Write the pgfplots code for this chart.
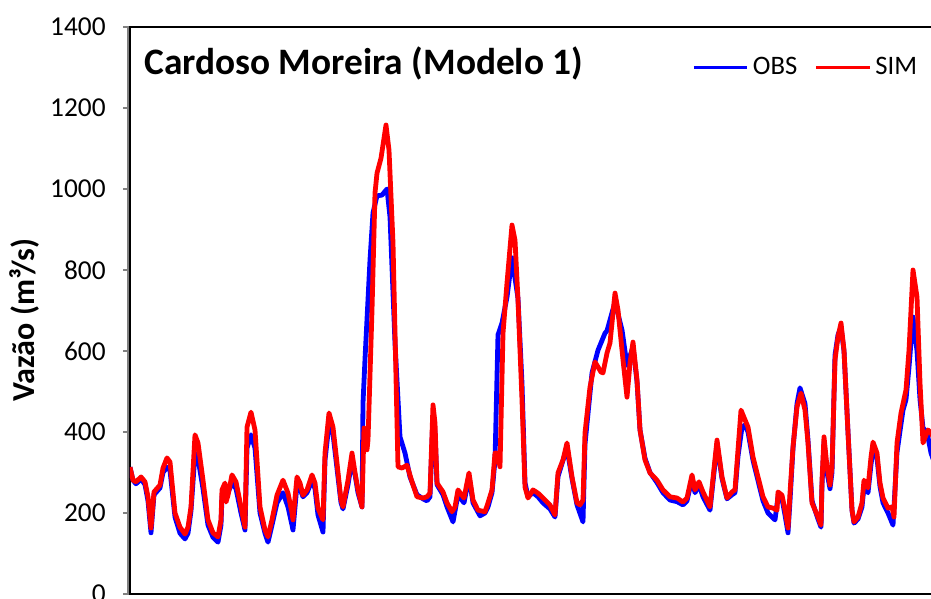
\documentclass[border=0pt]{standalone}
\usepackage{fontspec}
\setmainfont{Carlito}
\usepackage{pgfplots}
\pgfplotsset{compat=1.18}
\definecolor{obsblue}{RGB}{0,0,255}
\definecolor{simred}{RGB}{255,0,0}
\begin{document}
\begin{tikzpicture}
\path[use as bounding box, clip] (0,0) rectangle (698.25pt,449.25pt);
\begin{axis}[
  at={(97.5pt,3.75pt)}, anchor=south west,
  scale only axis, width=607.5pt, height=425.25pt,
  xmin=130, xmax=940, ymin=0, ymax=1400,
  xtick=\empty, ytick={0,200,...,1400}, ytick pos=left,
  axis line style={black, line width=2pt},
  y tick style={gray, line width=1pt}, tick align=outside, major tick length=5pt,
  yticklabel style={font=\fontsize{20.5}{24}\selectfont, xshift=-9.75pt},
  /pgf/number format/assume math mode=true,
  /pgf/number format/1000 sep={},
  ylabel={Vazão (m³/s)},
  ylabel style={font=\bfseries\fontsize{24}{28}\selectfont, at={(ticklabel cs:0.483)}, yshift=1pt},
  legend columns=2,
  legend style={draw=none, fill=none, at={(0.982,0.929)}, anchor=east,
    font=\fontsize{20}{24}\selectfont,
    nodes={inner sep=3pt},
    /tikz/every even column/.append style={column sep=10pt}},
  legend image code/.code={\draw[#1, line width=2.5pt] (0pt,0pt) -- (40pt,0pt);},
]
\addplot[obsblue, line width=3.6pt, line join=round] table {
x y
130 313
133 281
136 272
141 284
145 270
148 230
151 151
154 245
160 262
163 300
167 313
170 305
175 190
180 150
185 136
188 150
191 205
195 348
198 335
203 260
208 170
213 140
218 128
221 170
222 240
225 255
228 250
232 275
236 260
241 200
245 158
247 360
251 393
255 360
260 200
265 150
268 128
272 170
277 225
283 250
288 215
292 170
293 158
297 270
300 260
303 240
307 250
312 280
315 260
318 195
323 153
325 330
329 420
333 395
337 310
341 225
343 210
348 270
352 330
355 295
358 250
362 215
363 471
365 580
370 825
373 941
377 983
382 985
387 1000
390 931
395 620
400 388
405 348
410 289
417 245
423 235
427 230
430 240
433 440
435 400
437 270
443 245
447 215
453 178
458 245
464 225
469 290
473 225
480 193
485 200
488 215
492 250
495 330
498 640
502 669
507 733
512 830
518 730
522 520
525 275
528 240
533 250
538 240
543 225
550 210
555 190
558 290
563 330
567 360
572 285
577 220
583 178
585 370
592 546
598 602
605 644
607 650
615 721
622 652
627 565
633 610
637 525
640 405
645 335
650 300
657 275
663 250
670 232
677 228
683 220
687 230
692 285
695 250
699 270
703 240
710 207
717 370
722 285
727 235
732 245
735 250
738 340
742 412
745 417
748 400
753 330
758 280
763 230
768 200
775 183
778 240
782 235
785 195
788 151
790 230
793 360
797 470
800 509
805 470
808 380
812 230
818 185
821 165
822 270
824 375
827 300
830 260
832 300
835 590
838 640
841 659
844 600
848 400
852 207
854 175
858 185
862 215
864 265
868 250
871 320
873 355
877 335
880 265
883 225
888 200
893 170
897 350
903 454
906 480
909 560
913 684
917 600
920 480
923 410
927 400
931 348
935 320
};
\addlegendentry{OBS}
\addplot[simred, line width=3.6pt, line join=round] table {
x y
130 313
133 281
136 277
141 289
145 277
148 240
151 163
154 252
160 269
163 311
167 336
170 326
175 200
180 165
185 148
188 165
191 215
195 393
198 373
203 281
208 183
213 151
218 141
221 183
222 257
225 274
226 227
228 244
232 294
236 277
241 215
245 165
247 412
251 449
255 405
260 215
265 158
268 141
272 183
277 244
283 281
288 249
292 200
293 183
297 289
300 274
303 244
307 257
312 294
315 274
318 212
323 183
325 348
329 447
333 412
337 323
341 232
343 215
348 281
352 348
355 300
358 257
362 215
364 410
367 356
368 380
372 701
375 990
377 1039
381 1076
386 1158
389 1096
393 867
396 536
398 314
402 311
407 318
412 277
417 240
423 237
427 240
430 249
433 467
435 422
437 274
443 252
447 225
452 203
455 215
458 257
464 237
469 299
473 232
478 207
485 203
488 225
492 257
495 348
497 348
500 314
503 644
507 768
512 911
515 874
518 726
522 479
525 264
528 237
533 257
538 249
543 237
550 220
555 195
558 299
563 331
567 373
572 289
577 225
580 220
583 232
585 398
590 511
595 573
601 548
603 546
607 595
610 620
615 743
618 701
623 578
627 486
630 570
633 622
637 528
640 405
645 331
650 299
657 281
663 257
670 240
677 237
683 227
687 237
692 294
695 257
699 277
703 252
710 215
717 380
722 289
727 237
732 252
735 257
738 356
741 454
745 430
748 412
753 338
758 289
763 240
768 215
773 212
777 207
778 252
782 244
785 207
788 163
790 249
793 363
797 462
801 496
805 454
808 373
812 225
818 190
821 170
822 281
824 388
827 314
830 269
832 314
835 578
838 635
841 669
844 602
848 398
852 207
854 178
858 190
862 225
864 281
868 262
871 338
873 375
877 348
880 274
883 237
888 212
892 215
894 190
897 373
901 447
906 504
909 602
913 800
917 733
920 521
923 373
928 405
931 398
935 380
};
\addlegendentry{SIM}
\node[anchor=west, font=\bfseries\fontsize{28}{32}\selectfont] at (rel axis cs:0.012,0.9365) {Cardoso Moreira (Modelo 1)};
\end{axis}
\draw[gray, line width=1.2pt] (95.9pt,3.75pt) -- (95.9pt,430pt);
\end{tikzpicture}
\end{document}
